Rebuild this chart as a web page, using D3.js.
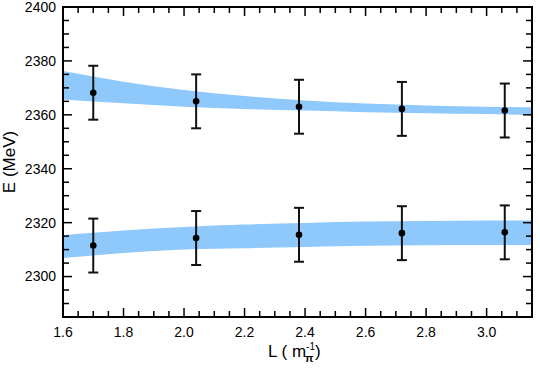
<!DOCTYPE html>
<html>
<head>
<meta charset="utf-8">
<script src="https://cdn.jsdelivr.net/npm/d3@7"></script>
<style>
  body { margin: 0; background: #fff; }
  #chart text { font-family: "Liberation Sans", Arial, Helvetica, sans-serif; }
</style>
</head>
<body>
<div id="chart"></div>
<script>
// lattice energies vs box size L, with bands from the fit
const xPoints = [1.70, 2.04, 2.38, 2.72, 3.06];
const upperE = [2368.2, 2365.0, 2363.0, 2362.2, 2361.6];
const upperErr = [10, 10, 10, 10, 10];
const lowerE = [2311.5, 2314.3, 2315.5, 2316.1, 2316.4];
const lowerErr = [10, 10, 10, 10, 10];

const bandL = [1.6, 1.8, 2.0, 2.2, 2.4, 2.6, 2.8, 3.0, 3.15];
const upperBandLo = [2365.7, 2364.3, 2363.0, 2362.2, 2361.6, 2361.0, 2360.6, 2360.3, 2360.0];
const upperBandHi = [2376.3, 2372.3, 2369.2, 2367.0, 2365.3, 2364.2, 2363.5, 2363.0, 2362.8];
const lowerBandLo = [2306.9, 2308.7, 2310.0, 2310.5, 2311.0, 2311.4, 2311.6, 2311.7, 2311.7];
const lowerBandHi = [2315.4, 2317.1, 2318.4, 2319.3, 2319.9, 2320.4, 2320.6, 2320.8, 2320.8];

const xTicks = [1.6, 1.8, 2.0, 2.2, 2.4, 2.6, 2.8, 3.0];
const yTicks = [2300, 2320, 2340, 2360, 2380, 2400];

(function() {
    const W = 540, H = 381;
    const margin = {top: 7, right: 8, bottom: 64, left: 63};
    const width = W - margin.left - margin.right;
    const height = H - margin.top - margin.bottom;

    const svg = d3.select("#chart").append("svg")
        .attr("width", W)
        .attr("height", H);

    const g = svg.append("g")
        .attr("transform", `translate(${margin.left},${margin.top})`);

    const x = d3.scaleLinear().domain([1.6, 3.15]).range([0, width]);
    const y = d3.scaleLinear().domain([2285, 2400]).range([height, 0]);

    // bands
    const bands = [
        bandL.map((l, i) => ({l: l, lo: upperBandLo[i], hi: upperBandHi[i]})),
        bandL.map((l, i) => ({l: l, lo: lowerBandLo[i], hi: lowerBandHi[i]}))
    ];
    const area = d3.area()
        .x(d => x(d.l))
        .y0(d => y(d.lo))
        .y1(d => y(d.hi))
        .curve(d3.curveMonotoneX);

    g.selectAll(".band")
        .data(bands)
        .enter()
        .append("path")
        .attr("class", "band")
        .attr("d", area)
        .attr("fill", "#8fc8fa");

    // error bars and points
    const pts = [];
    xPoints.forEach((l, i) => {
        pts.push({l: l, e: upperE[i], err: upperErr[i]});
        pts.push({l: l, e: lowerE[i], err: lowerErr[i]});
    });

    const eb = g.selectAll(".eb")
        .data(pts)
        .enter()
        .append("g")
        .attr("class", "eb")
        .attr("stroke", "#111")
        .attr("stroke-width", 2);

    eb.append("line")
        .attr("x1", d => x(d.l)).attr("x2", d => x(d.l))
        .attr("y1", d => y(d.e - d.err)).attr("y2", d => y(d.e + d.err));
    eb.append("line")
        .attr("x1", d => x(d.l) - 5).attr("x2", d => x(d.l) + 5)
        .attr("y1", d => y(d.e + d.err)).attr("y2", d => y(d.e + d.err));
    eb.append("line")
        .attr("x1", d => x(d.l) - 5).attr("x2", d => x(d.l) + 5)
        .attr("y1", d => y(d.e - d.err)).attr("y2", d => y(d.e - d.err));
    eb.append("circle")
        .attr("cx", d => x(d.l))
        .attr("cy", d => y(d.e))
        .attr("r", 3.3)
        .attr("fill", "#000")
        .attr("stroke", "none");

    // ticks on all four sides, pointing inward
    const xMinor = d3.range(1.6, 3.151, 0.05);
    const yMinor = d3.range(2285, 2400.1, 5);
    const isMajorX = v => xTicks.some(t => Math.abs(t - v) < 1e-6);
    const isMajorY = v => yTicks.some(t => Math.abs(t - v) < 1e-6);

    const tk = g.append("g").attr("stroke", "#000").attr("stroke-width", 1.5);
    xMinor.forEach(v => {
        const len = isMajorX(v) ? 9 : 6;
        tk.append("line").attr("x1", x(v)).attr("x2", x(v)).attr("y1", height).attr("y2", height - len);
        tk.append("line").attr("x1", x(v)).attr("x2", x(v)).attr("y1", 0).attr("y2", len);
    });
    yMinor.forEach(v => {
        const len = isMajorY(v) ? 9 : 6;
        tk.append("line").attr("y1", y(v)).attr("y2", y(v)).attr("x1", 0).attr("x2", len);
        tk.append("line").attr("y1", y(v)).attr("y2", y(v)).attr("x1", width).attr("x2", width - len);
    });

    // frame
    g.append("rect")
        .attr("width", width)
        .attr("height", height)
        .attr("fill", "none")
        .attr("stroke", "#000")
        .attr("stroke-width", 2);

    // tick labels
    g.selectAll(".xl")
        .data(xTicks)
        .enter()
        .append("text")
        .attr("x", d => x(d))
        .attr("y", height + 20)
        .attr("text-anchor", "middle")
        .attr("font-size", "14px")
        .text(d => d3.format(".1f")(d));

    g.selectAll(".yl")
        .data(yTicks)
        .enter()
        .append("text")
        .attr("x", -7)
        .attr("y", d => y(d))
        .attr("dy", "0.35em")
        .attr("text-anchor", "end")
        .attr("font-size", "14px")
        .text(d => d);

    // axis titles
    g.append("text")
        .attr("transform", `translate(-48,${height / 2}) rotate(-90)`)
        .attr("text-anchor", "middle")
        .attr("font-size", "17px")
        .text("E (MeV)");

    const xt = svg.append("text")
        .attr("x", 0)
        .attr("y", 357)
        .attr("font-size", "17px");
    xt.append("tspan").text("L ( m");
    const sup = xt.append("tspan").attr("dy", -7).attr("font-size", "10px").text("-1");
    const supW = sup.node().getComputedTextLength();
    xt.append("tspan").attr("dx", -supW - 1).attr("dy", 12)
        .attr("font-size", "11px").attr("font-weight", "bold").text("π");
    xt.append("tspan").attr("dy", -5).attr("dx", 1.5).text(")");
    const tw = xt.node().getComputedTextLength();
    xt.attr("x", margin.left + width / 2 - tw / 2 + 1);
})();
</script>
</body>
</html>
